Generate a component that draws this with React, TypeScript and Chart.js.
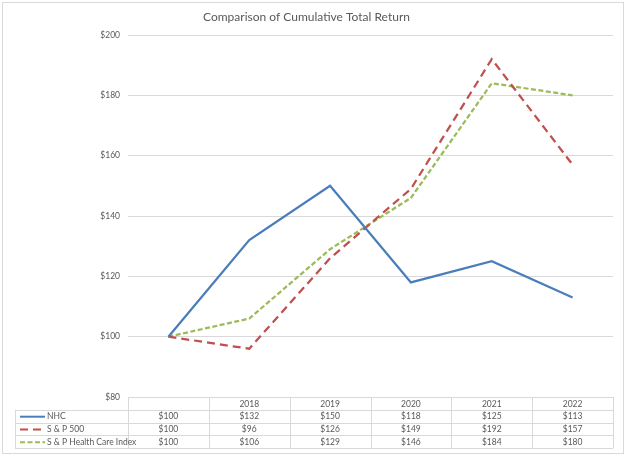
import React, { useEffect, useRef } from "react";
import { Chart, registerables } from "chart.js";

Chart.register(...registerables);

const title = "Comparison of Cumulative Total Return";
const categories = ["", "2018", "2019", "2020", "2021", "2022"];
const nhc = [100, 132, 150, 118, 125, 113];
const sp500 = [100, 96, 126, 149, 192, 157];
const healthCare = [100, 106, 129, 146, 184, 180];
const seriesNames = ["NHC", "S & P 500", "S & P Health Care Index"];
const seriesColors = ["#4A7EBB", "#C0504D", "#9BBB59"];
const seriesDashes: number[][] = [[], [8, 5], [5, 2.5]];
const seriesData = [nhc, sp500, healthCare];
const yMin = 80;
const yMax = 200;
const yStep = 20;

const FONT = "Lato, 'Open Sans', sans-serif";
const TEXT = "#595959";
const GRID = "#D9D9D9";

const fmt = (v: number) => "$" + v;

const framePlugin = {
  id: "frameAndTable",
  afterDraw(chart: any) {
    const ctx = chart.ctx as CanvasRenderingContext2D;
    const area = chart.chartArea;
    const xs = chart.scales.x;
    const n = categories.length;
    const colW = (area.right - area.left) / n;
    const top = area.bottom;
    const rowH = 12.8;
    const labelLeft = 15;
    const rows = seriesData.length + 1;
    const bottom = top + rowH * rows;

    ctx.save();
    ctx.strokeStyle = GRID;
    ctx.lineWidth = 1;
    ctx.strokeRect(2.5, 2.5, chart.width - 5, chart.height - 4);

    ctx.beginPath();
    ctx.moveTo(area.left, top + 0.5);
    ctx.lineTo(area.right, top + 0.5);
    for (let r = 1; r <= rows; r++) {
      const y = Math.round(top + r * rowH) + 0.5;
      ctx.moveTo(labelLeft, y);
      ctx.lineTo(area.right, y);
    }
    for (let c = 0; c <= n; c++) {
      const x = Math.round(area.left + c * colW) + 0.5;
      ctx.moveTo(x, top);
      ctx.lineTo(x, bottom);
    }
    ctx.moveTo(labelLeft + 0.5, top + rowH);
    ctx.lineTo(labelLeft + 0.5, bottom);
    ctx.stroke();

    ctx.fillStyle = TEXT;
    ctx.font = `8.5px ${FONT}`;
    ctx.textBaseline = "middle";
    ctx.textAlign = "center";
    categories.forEach((c, i) => {
      ctx.fillText(c, xs.getPixelForValue(i), top + rowH / 2 + 0.5);
    });
    seriesData.forEach((data, s) => {
      const cy = top + rowH * (s + 1) + rowH / 2 + 0.5;
      data.forEach((v, i) => {
        ctx.textAlign = "center";
        ctx.fillText(fmt(v), xs.getPixelForValue(i), cy);
      });
      ctx.save();
      ctx.strokeStyle = seriesColors[s];
      ctx.lineWidth = 2;
      ctx.setLineDash(seriesDashes[s]);
      ctx.beginPath();
      ctx.moveTo(labelLeft + 5, cy);
      ctx.lineTo(labelLeft + 30, cy);
      ctx.stroke();
      ctx.restore();
      ctx.textAlign = "left";
      ctx.fillText(seriesNames[s], labelLeft + 32, cy);
    });
    ctx.restore();
  },
};

export default function App() {
  const ref = useRef<HTMLCanvasElement | null>(null);
  useEffect(() => {
    document.body.style.margin = "0";
    const canvas = ref.current;
    if (!canvas) return;
    const chart = new Chart(canvas, {
      type: "line",
      data: {
        labels: categories,
        datasets: seriesData.map((d, i) => ({
          label: seriesNames[i],
          data: d,
          borderColor: seriesColors[i],
          backgroundColor: seriesColors[i],
          borderWidth: 2.25,
          borderDash: seriesDashes[i],
          pointRadius: 0,
          tension: 0,
          fill: false,
        })),
      },
      options: {
        responsive: false,
        animation: false,
        layout: { padding: { left: 0, right: 13, top: 0, bottom: 58 } },
        plugins: {
          legend: { display: false },
          tooltip: { enabled: false },
          title: {
            display: true,
            text: title,
            color: TEXT,
            font: { family: FONT, size: 12, weight: "normal" },
            padding: { top: 10, bottom: 10.6 },
          },
        },
        scales: {
          x: {
            display: false,
            offset: true,
            grid: { display: false },
          },
          y: {
            min: yMin,
            max: yMax,
            afterFit: (s: any) => {
              s.width = 128;
            },
            border: { display: false },
            grid: { color: GRID, drawTicks: false, lineWidth: 1 },
            ticks: {
              stepSize: yStep,
              padding: 8,
              color: TEXT,
              font: { family: FONT, size: 8.5 },
              callback: (v: any) => fmt(Number(v)),
            },
          },
        },
      },
      plugins: [framePlugin],
    });
    return () => chart.destroy();
  }, []);
  return (
    <div style={{ width: 626, height: 455, background: "#fff" }}>
      <canvas ref={ref} width={626} height={455} style={{ width: 626, height: 455, display: "block" }} />
    </div>
  );
}
